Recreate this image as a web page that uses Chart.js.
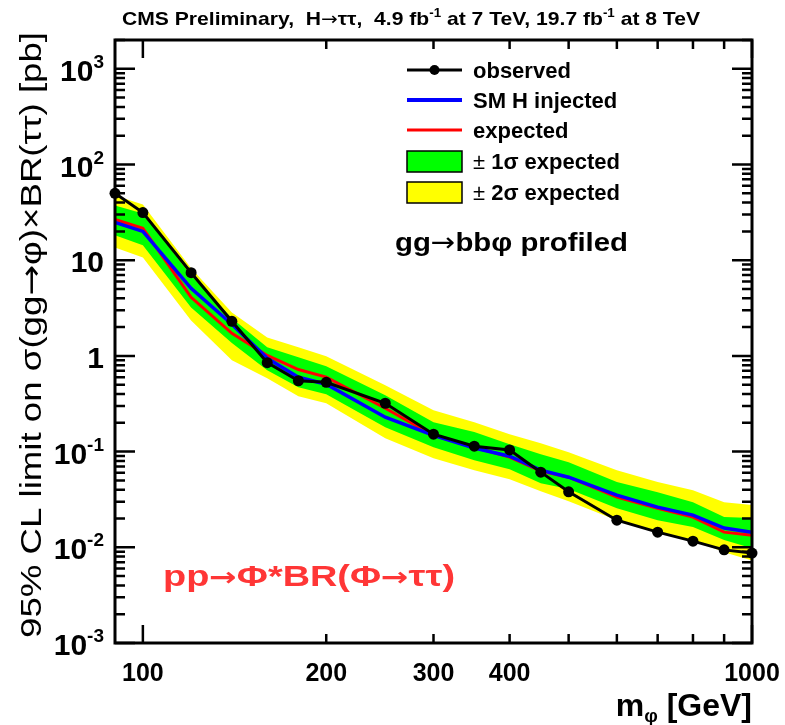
<!DOCTYPE html>
<html>
<head>
<meta charset="utf-8">
<script src="https://cdn.jsdelivr.net/npm/chart.js@4/dist/chart.umd.min.js"></script>
<style>
  body { margin: 0; background: #fff; }
  canvas { display: block; }
</style>
</head>
<body>
<canvas id="limitChart" width="785" height="725"></canvas>
<script>

// mass points (GeV)
var masses = [90, 100, 120, 140, 160, 180, 200, 250, 300, 350, 400, 450, 500, 600, 700, 800, 900, 1000];

// 95% CL limits [pb]
var observed   = [50, 31.5, 7.4, 2.3, 0.85, 0.55, 0.53, 0.32, 0.152, 0.114, 0.104, 0.061, 0.038, 0.0192, 0.0144, 0.0116, 0.0094, 0.0087];
var expected   = [26.7, 21.5, 4.09, 1.72, 1.01, 0.72, 0.60, 0.284, 0.148, 0.111, 0.0875, 0.0625, 0.054, 0.0334, 0.0256, 0.0207, 0.0144, 0.0134];
var smInjected = [24.8, 20.0, 5.08, 2.14, 0.944, 0.598, 0.506, 0.229, 0.148, 0.109, 0.0895, 0.064, 0.054, 0.0351, 0.0263, 0.0217, 0.0159, 0.0144];
var plus1  = [37.3, 30.8, 6.93, 2.47, 1.23, 0.966, 0.78, 0.388, 0.203, 0.160, 0.119, 0.094, 0.0775, 0.048, 0.0377, 0.0296, 0.0207, 0.0202];
var minus1 = [18.2, 14.3, 3.21, 1.36, 0.708, 0.47, 0.397, 0.18, 0.111, 0.0813, 0.0655, 0.0468, 0.0406, 0.0256, 0.0192, 0.0163, 0.0119, 0.0098];
var plus2  = [47.5, 38.3, 8.22, 2.85, 1.56, 1.23, 0.99, 0.493, 0.27, 0.203, 0.152, 0.122, 0.0986, 0.064, 0.048, 0.0395, 0.0296, 0.0276];
var minus2 = [13.6, 10.7, 2.35, 0.90, 0.583, 0.378, 0.32, 0.138, 0.0853, 0.064, 0.0515, 0.0386, 0.0303, 0.0192, 0.0144, 0.0119, 0.0089, 0.0073];

// axis labels
var xTickLabels = [100, 200, 300, 400, 1000];
var xTickMarks  = [100, 200, 300, 400, 500, 600, 700, 800, 900, 1000];
var yDecades    = [-3, -2, -1, 0, 1, 2, 3];

var FONT = '"Liberation Sans", Arial, Helvetica, sans-serif';
var ARROW = '"DejaVu Sans", sans-serif';

function pts(values){
	return masses.map(function(m, i){ return {x: m, y: values[i]}; });
}

// draws a row of text pieces (for super/subscripts), optionally squeezed to a width
function drawRuns(ctx, runs, x, y, align, fitWidth){
	var w = 0;
	runs.forEach(function(r){
		ctx.font = r.font;
		r.w = ctx.measureText(r.t).width;
		w += r.w;
	});
	var sx = fitWidth ? fitWidth / w : 1;
	var start = x;
	if(align == 'right') start = x - w * sx;
	if(align == 'center') start = x - w * sx / 2;
	ctx.save();
	ctx.textAlign = 'left';
	ctx.textBaseline = 'alphabetic';
	ctx.translate(start, y);
	ctx.scale(sx, 1);
	var cx = 0;
	runs.forEach(function(r){
		ctx.font = r.font;
		ctx.fillStyle = r.color || '#000';
		ctx.fillText(r.t, cx, r.dy || 0);
		cx += r.w;
	});
	ctx.restore();
}

var rootStyle = {
	id: 'rootStyle',
	afterDraw: function(chart){
		var ctx = chart.ctx;
		var a = chart.chartArea;
		var xs = chart.scales.x, ys = chart.scales.y;

		ctx.save();
		ctx.strokeStyle = '#000';
		ctx.lineWidth = 2.5;

		// y ticks, inside, both sides
		yDecades.forEach(function(e){
			for(var k = 1; k <= 9; k++){
				var v = k * Math.pow(10, e);
				if(v < ys.min || v > ys.max) continue;
				var py = ys.getPixelForValue(v);
				var len = k == 1 ? 20 : 10;
				ctx.beginPath();
				ctx.moveTo(a.left, py); ctx.lineTo(a.left + len, py);
				ctx.moveTo(a.right, py); ctx.lineTo(a.right - len, py);
				ctx.stroke();
			}
		});

		// x ticks, inside, top and bottom
		xTickMarks.forEach(function(v){
			var px = xs.getPixelForValue(v);
			var len = (v == 100 || v == 1000) ? 18 : 9;
			ctx.beginPath();
			ctx.moveTo(px, a.bottom); ctx.lineTo(px, a.bottom - len);
			ctx.moveTo(px, a.top); ctx.lineTo(px, a.top + len);
			ctx.stroke();
		});

		// frame
		ctx.lineWidth = 3;
		ctx.strokeRect(a.left, a.top, a.right - a.left, a.bottom - a.top);
		ctx.restore();

		// y tick labels
		var big = 'bold 30px ' + FONT, sup = 'bold 19px ' + FONT;
		yDecades.forEach(function(e){
			var py = ys.getPixelForValue(Math.pow(10, e));
			var runs;
			if(e == 0) runs = [{t: '1', font: big}];
			else if(e == 1) runs = [{t: '10', font: big}];
			else runs = [{t: '10', font: big}, {t: String(e), font: sup, dy: -13}];
			drawRuns(ctx, runs, 104, py + 12, 'right');
		});

		// x tick labels
		xTickLabels.forEach(function(v){
			var px = xs.getPixelForValue(v);
			drawRuns(ctx, [{t: String(v), font: 'bold 25px ' + FONT}], px, 681, 'center');
		});

		// x title
		drawRuns(ctx, [
			{t: 'm', font: 'bold 32px ' + FONT},
			{t: 'φ', font: 'bold 19px ' + FONT, dy: 6},
			{t: ' [GeV]', font: 'bold 32px ' + FONT}
		], 752, 716, 'right');

		// y title
		var yf = '30px ' + FONT;
		ctx.save();
		ctx.translate(41, 335);
		ctx.rotate(-Math.PI / 2);
		drawRuns(ctx, [
			{t: '95% CL limit on σ(gg', font: yf},
			{t: '→', font: '30px ' + ARROW},
			{t: 'φ)×BR(ττ) [pb]', font: yf}
		], 0, 0, 'center', 606);
		ctx.restore();

		// top title
		var tf = 'bold 19px ' + FONT, ts = 'bold 12px ' + FONT;
		drawRuns(ctx, [
			{t: 'CMS Preliminary,  H', font: tf},
			{t: '→', font: '18px ' + ARROW},
			{t: 'ττ,  4.9 fb', font: tf},
			{t: '-1', font: ts, dy: -8},
			{t: ' at 7 TeV, 19.7 fb', font: tf},
			{t: '-1', font: ts, dy: -8},
			{t: ' at 8 TeV', font: tf}
		], 122, 25, 'left', 578);

		// legend
		var lx0 = 407, lx1 = 462, tx = 473;
		var lf = 'bold 22px ' + FONT;
		ctx.save();
		ctx.strokeStyle = '#000'; ctx.lineWidth = 3;
		ctx.beginPath(); ctx.moveTo(lx0, 70); ctx.lineTo(lx1, 70); ctx.stroke();
		ctx.fillStyle = '#000';
		ctx.beginPath(); ctx.arc((lx0 + lx1) / 2, 70, 5, 0, Math.PI * 2); ctx.fill();
		ctx.strokeStyle = '#0000ff'; ctx.lineWidth = 4;
		ctx.beginPath(); ctx.moveTo(lx0, 100); ctx.lineTo(lx1, 100); ctx.stroke();
		ctx.strokeStyle = '#ff0000'; ctx.lineWidth = 3;
		ctx.beginPath(); ctx.moveTo(lx0, 130); ctx.lineTo(lx1, 130); ctx.stroke();
		ctx.lineWidth = 1.5; ctx.strokeStyle = '#000';
		ctx.fillStyle = '#00ff00'; ctx.fillRect(lx0, 151, lx1 - lx0, 21); ctx.strokeRect(lx0, 151, lx1 - lx0, 21);
		ctx.fillStyle = '#ffff00'; ctx.fillRect(lx0, 182, lx1 - lx0, 21); ctx.strokeRect(lx0, 182, lx1 - lx0, 21);
		ctx.restore();
		drawRuns(ctx, [{t: 'observed', font: lf}], tx, 78, 'left');
		drawRuns(ctx, [{t: 'SM H injected', font: lf}], tx, 108, 'left');
		drawRuns(ctx, [{t: 'expected', font: lf}], tx, 138, 'left');
		drawRuns(ctx, [{t: '± ', font: '22px ' + FONT}, {t: '1σ expected', font: lf}], tx, 169, 'left');
		drawRuns(ctx, [{t: '± ', font: '22px ' + FONT}, {t: '2σ expected', font: lf}], tx, 200, 'left');

		// annotations
		drawRuns(ctx, [
			{t: 'gg', font: 'bold 26px ' + FONT},
			{t: '→', font: '26px ' + ARROW},
			{t: 'bbφ profiled', font: 'bold 26px ' + FONT}
		], 395, 251, 'left', 233);
		drawRuns(ctx, [
			{t: 'pp', font: 'bold 30px ' + FONT, color: '#ff3636'},
			{t: '→', font: 'bold 26px ' + ARROW, color: '#ff3636'},
			{t: 'Φ*BR(Φ', font: 'bold 30px ' + FONT, color: '#ff3636'},
			{t: '→', font: 'bold 26px ' + ARROW, color: '#ff3636'},
			{t: 'ττ)', font: 'bold 30px ' + FONT, color: '#ff3636'}
		], 163, 586, 'left', 292);
	}
};

var ctx = document.getElementById('limitChart').getContext('2d');
var chart = new Chart(ctx, {
	type: 'line',
	data: {
		datasets: [{
			label: 'observed',
			data: pts(observed),
			borderColor: '#000',
			backgroundColor: '#000',
			borderWidth: 3,
			pointRadius: 5.5,
			pointBackgroundColor: '#000',
			pointBorderWidth: 0,
			clip: false,
			order: 0
		},{
			label: 'SM H injected',
			data: pts(smInjected),
			borderColor: '#0000ff',
			borderWidth: 3.5,
			pointRadius: 0,
			order: 1
		},{
			label: 'expected',
			data: pts(expected),
			borderColor: '#ff0000',
			borderWidth: 3,
			pointRadius: 0,
			order: 2
		},{
			label: '+1 sigma',
			data: pts(plus1),
			borderColor: 'rgba(0,0,0,0)',
			borderWidth: 0,
			backgroundColor: '#00ff00',
			fill: '+1',
			pointRadius: 0,
			order: 3
		},{
			label: '-1 sigma',
			data: pts(minus1),
			borderColor: 'rgba(0,0,0,0)',
			borderWidth: 0,
			pointRadius: 0,
			order: 3
		},{
			label: '+2 sigma',
			data: pts(plus2),
			borderColor: 'rgba(0,0,0,0)',
			borderWidth: 0,
			backgroundColor: '#ffff00',
			fill: '+1',
			pointRadius: 0,
			order: 4
		},{
			label: '-2 sigma',
			data: pts(minus2),
			borderColor: 'rgba(0,0,0,0)',
			borderWidth: 0,
			pointRadius: 0,
			order: 4
		}]
	},
	options: {
		responsive: false,
		animation: false,
		layout: { padding: { left: 115, right: 33, top: 40, bottom: 82 } },
		elements: { line: { tension: 0 } },
		scales: {
			x: { type: 'logarithmic', min: 90, max: 1000, display: false },
			y: { type: 'logarithmic', min: 0.001, max: 2000, display: false }
		},
		plugins: {
			legend: { display: false },
			tooltip: { enabled: false }
		}
	},
	plugins: [rootStyle]
});

</script>
</body>
</html>
